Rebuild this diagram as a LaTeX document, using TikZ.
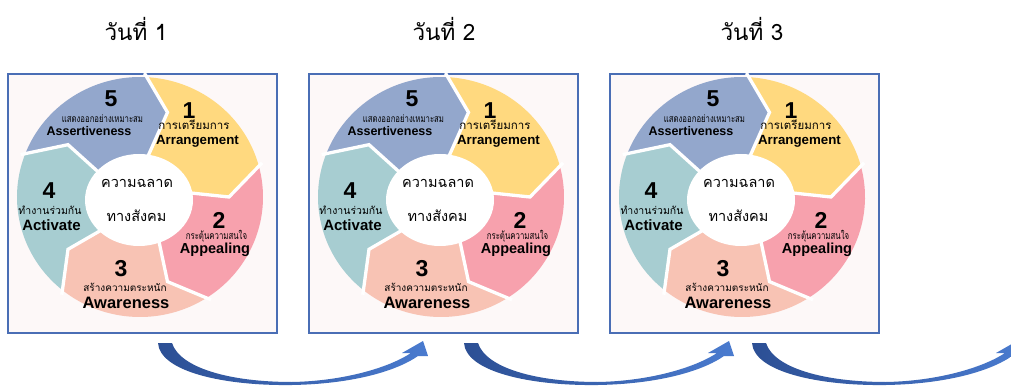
\documentclass[tikz,border=0pt]{standalone}
\usepackage{fontspec}
\setmainfont{Liberation Sans}
\newfontfamily\thai[Script=Thai]{Loma}
\newfontfamily\thain[Script=Thai, FakeStretch=0.76]{Loma}
\usetikzlibrary{shapes.geometric}
\definecolor{cyel}{HTML}{FFD97F}
\definecolor{cpink}{HTML}{F7A1AD}
\definecolor{csal}{HTML}{F8C3B4}
\definecolor{cteal}{HTML}{A7CDD1}
\definecolor{cblue}{HTML}{93A7CC}
\definecolor{cframe}{HTML}{4A6EB5}
\definecolor{cbg}{HTML}{FDF8F8}
\definecolor{carrowd}{HTML}{2C4F94}
\definecolor{carrowl}{HTML}{4A7BCF}
\tikzset{
  num/.style={font=\bfseries\fontsize{23}{23}\selectfont, inner sep=0pt},
  en/.style={font=\bfseries\fontsize{#1}{#1}\selectfont, inner sep=0pt},
  th/.style={font=\thai\fontsize{#1}{#1}\selectfont, inner sep=0pt},
  thn/.style={font=\thain\fontsize{#1}{#1}\selectfont, inner sep=0pt},
  frame/.style={draw=cframe, line width=1.8pt, fill=cbg, inner sep=0pt, outer sep=0pt},
  gap/.style={draw=white, line width=3.3pt},
  hub/.style={ellipse, fill=white, inner sep=0pt, minimum width=108pt, minimum height=92pt},
  panel/.pic={
    \node[frame, anchor=north west, minimum width=269pt, minimum height=259pt] (-frame) at (0,74) {};
    \begin{scope}[shift={(132,197)}]
      \foreach \c [count=\k from 0] in {cyel,cpink,csal,cteal,cblue}{
        \pgfmathsetmacro\a{-87+72*\k}
        \pgfmathsetmacro\b{\a+72}
        \pgfmathsetmacro\bt{\b+15}
        \pgfmathsetmacro\bi{\b+6}
        \pgfmathsetmacro\at{\a+15}
        \pgfmathsetmacro\ai{\a+6}
        \fill[\c] (\a:123 and 120) arc[start angle=\a, end angle=\b, x radius=123, y radius=120]
          -- (\bt:89) -- (\bi:40) arc[start angle=\bi, end angle=\ai, radius=40]
          -- (\at:89) -- cycle;
      }
      \foreach \k in {0,...,4}{
        \pgfmathsetmacro\a{-87+72*\k}
        \pgfmathsetmacro\ao{\a-1}
        \pgfmathsetmacro\at{\a+15}
        \pgfmathsetmacro\ai{\a+6}
        \draw[gap] (\ao:127 and 124) -- (\at:89) -- (\ai:36);
      }
      \node[hub] (-hub) at (-1,3) {};
    \end{scope}
    \node[num] (-n5) at (103,99) {5};
    \node[thn=10.2] (-t5) at (94.5,118.5) {แสดงออกอย่างเหมาะสม};
    \node[en=12.5] (-e5) at (81,131.5) {Assertiveness};
    \node[num] (-n1) at (181,111) {1};
    \node[th=11.5] (-t1) at (186,125) {การเตรียมการ};
    \node[en=13.3] (-e1) at (189.5,141.5) {Arrangement};
    \node[th=14.5] (-c1) at (129,183) {ความฉลาด};
    \node[th=14.5] (-c2) at (128.5,216) {ทางสังคม};
    \node[num] (-n4) at (41,190.5) {4};
    \node[th=10.5] (-t4) at (42,210.5) {ทำงานร่วมกัน};
    \node[en=15] (-e4) at (43.5,225) {Activate};
    \node[num] (-n2) at (211,220) {2};
    \node[thn=10.3] (-t2) at (208.5,236.5) {กระตุ้นความสนใจ};
    \node[en=14.5] (-e2) at (207,250) {Appealing};
    \node[num] (-n3) at (113,268.5) {3};
    \node[th=10] (-t3) at (117,287) {สร้างความตระหนัก};
    \node[en=16.5] (-e3) at (118,303) {Awareness};
  },
  curvarrow/.pic={
    \shade[left color=carrowd, right color=carrowl]
      (158,343) .. controls (160,372) and (225,386) .. (292,385)
      .. controls (350,384) and (395,372) .. (418,356)
      -- (428,356) -- (423,341) -- (402,353) -- (411,353)
      .. controls (390,367) and (345,381) .. (292,382)
      .. controls (230,382) and (180,368) .. (172,343) -- cycle;
  },
  title/.style={font=\thai\fontsize{22.5}{22.5}\selectfont, inner sep=0pt}
}
\begin{document}
\begin{tikzpicture}[x=1pt,y=-1pt]
\useasboundingbox (0,0) rectangle (1011,387);
\fill[white] (0,0) rectangle (1011,387);
\pic (p1) at (8,0) {panel};
\pic (p2) at (309,0) {panel};
\pic (p3) at (610,0) {panel};
\node[title] (d1) at (136,29) {วันที่ 1};
\node[title] (d2) at (444,29) {วันที่ 2};
\node[title] (d3) at (752,29) {วันที่ 3};
\pic (a1) at (0,0) {curvarrow};
\pic (a2) at (306,0) {curvarrow};
\pic (a3) at (594,0) {curvarrow};
\end{tikzpicture}
\end{document}
